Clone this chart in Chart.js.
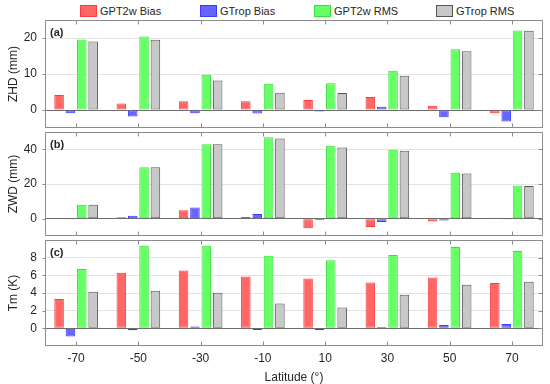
<!DOCTYPE html>
<html><head><meta charset="utf-8">
<script src="https://cdn.jsdelivr.net/npm/chart.js@4"></script>
<style>
html,body{margin:0;padding:0;background:#fff;}
#wrap{position:relative;width:550px;height:384px;font-family:"Liberation Sans",Arial,sans-serif;overflow:hidden;}
canvas{position:absolute;left:0;}
.lg{position:absolute;top:4px;height:14px;display:flex;align-items:center;font-size:11px;color:#262626;white-space:nowrap;}
.lg .b{display:inline-block;box-sizing:border-box;width:17px;height:12px;border:1px solid;margin-right:3px;}
</style></head><body>
<div id="wrap">
  <div id="legend"></div>
  <canvas id="ca" width="550" height="130" style="top:0px"></canvas>
  <canvas id="cb" width="550" height="108" style="top:130px"></canvas>
  <canvas id="cc" width="550" height="146" style="top:238px"></canvas>
</div>
<script>
// ---- data ----
const latitudes = ['-70','-50','-30','-10','10','30','50','70'];
const seriesNames = ['GPT2w Bias','GTrop Bias','GPT2w RMS','GTrop RMS'];

const zhdGpt2wBias = [4.2, 1.8, 2.4, 2.4, 2.8, 3.6, 1.2, -0.9];
const zhdGtropBias = [-0.9, -1.8, -0.9, -1.0, -0.4, 0.9, -2.0, -3.2];
const zhdGpt2wRms  = [19.6, 20.4, 9.8, 7.3, 7.4, 10.9, 16.9, 22.1];
const zhdGtropRms  = [19.0, 19.5, 8.2, 4.8, 4.7, 9.5, 16.3, 22.0];

const zwdGpt2wBias = [0.1, 0.8, 4.8, 1.0, -5.5, -4.8, -1.7, 0.6];
const zwdGtropBias = [-0.5, 1.7, 6.5, 2.7, -0.8, -1.9, -1.1, -0.1];
const zwdGpt2wRms  = [8.0, 29.7, 43.0, 47.0, 42.1, 39.8, 26.5, 19.2];
const zwdGtropRms  = [8.0, 29.7, 42.9, 46.3, 41.0, 39.2, 26.1, 18.9];

const tmGpt2wBias = [3.33, 6.28, 6.54, 5.87, 5.64, 5.20, 5.76, 5.12];
const tmGtropBias = [-0.93, -0.22, 0.22, -0.19, -0.22, 0.15, 0.37, 0.49];
const tmGpt2wRms  = [6.73, 9.35, 9.35, 8.22, 7.70, 8.30, 9.20, 8.75];
const tmGtropRms  = [4.15, 4.26, 4.04, 2.80, 2.36, 3.81, 4.93, 5.27];

const zhdTicks = [0, 10, 20];
const zwdTicks = [0, 20, 40];
const tmTicks  = [0, 2, 4, 6, 8];

// ---- styles ----
const fills   = ['#FF6666', '#6666FF', '#66FF66', '#C8C8C8'];
const borders = ['#FF3B3B', '#3B3BFF', '#3BE03B', '#555555'];
const FONT = '"Liberation Sans", Arial, sans-serif';
const TXT = '#262626';

// legend (HTML)
const legendLefts = [80, 200, 314, 436];
const lg = document.getElementById('legend');
seriesNames.forEach((n, i) => {
  const d = document.createElement('div');
  d.className = 'lg';
  d.style.left = legendLefts[i] + 'px';
  d.innerHTML = '<span class="b" style="background:' + fills[i] + ';border-color:' + borders[i] + '"></span>' + n;
  lg.appendChild(d);
});

const framePlugin = {
  id: 'frame',
  afterDraw(chart, args, opts) {
    const {ctx, chartArea: a} = chart;
    const xs = chart.scales.x, ys = chart.scales.y;
    ctx.save();
    ctx.strokeStyle = '#8c8c8c';
    ctx.lineWidth = 1;
    const L = Math.round(a.left) + 0.5, R = Math.round(a.right) - 0.5;
    const T = Math.round(a.top) + 0.5, B = Math.round(a.bottom) - 0.5;
    ctx.strokeRect(L, T, R - L, B - T);
    ctx.beginPath();
    for (let i = 0; i < latitudes.length; i++) {
      const x = Math.round(xs.getPixelForValue(i)) + 0.5;
      ctx.moveTo(x, T); ctx.lineTo(x, T + 4);
      ctx.moveTo(x, B); ctx.lineTo(x, B - 4);
    }
    ys.ticks.forEach(t => {
      const y = Math.round(ys.getPixelForValue(t.value)) + 0.5;
      ctx.moveTo(L - 3, y); ctx.lineTo(L, y);
      ctx.moveTo(R - 4, y); ctx.lineTo(R, y);
    });
    ctx.stroke();
    ctx.fillStyle = TXT;
    ctx.font = 'bold 11px ' + FONT;
    ctx.textBaseline = 'middle';
    ctx.textAlign = 'left';
    ctx.fillText(opts.label, a.left + 5, a.top + 13);
    ctx.restore();
  }
};

function makeChart(id, data4, yMin, yMax, yTicks, yTitle, label, showX, pad) {
  const datasets = data4.map((d, i) => ({
    label: seriesNames[i],
    data: d,
    backgroundColor: fills[i],
    borderColor: borders[i],
    borderWidth: 1,
    borderSkipped: false,
    categoryPercentage: 0.73,
    barPercentage: 0.84
  }));
  return new Chart(document.getElementById(id), {
    type: 'bar',
    data: {labels: latitudes, datasets},
    plugins: [framePlugin],
    options: {
      responsive: false,
      animation: false,
      layout: {padding: pad},
      plugins: {legend: {display: false}, tooltip: {enabled: false}, frame: {label}},
      scales: {
        x: {
          display: showX,
          offset: true,
          grid: {display: false, drawTicks: false},
          border: {display: false},
          ticks: {color: TXT, font: {family: FONT, size: 12}, padding: 5, maxRotation: 0},
          title: {display: showX, text: 'Latitude (°)', color: TXT,
                  font: {family: FONT, size: 12, lineHeight: 1}, padding: {top: 0, bottom: 0}},
          afterFit(s) { if (showX) s.height = 38; s.paddingLeft = 0; s.paddingRight = 0; }
        },
        y: {
          min: yMin, max: yMax,
          afterBuildTicks(s) { s.ticks = yTicks.map(v => ({value: v})); },
          afterFit(s) { s.width = 45; s.paddingTop = 0; s.paddingBottom = 0; },
          grid: {drawTicks: false,
                 color: c => (c.tick && c.tick.value === 0) ? '#6e6e6e' : '#e3e3e3'},
          border: {display: false},
          ticks: {color: TXT, font: {family: FONT, size: 12}, padding: 8},
          title: {display: true, text: yTitle, color: TXT,
                  font: {family: FONT, size: 12}, padding: {top: 6, bottom: 0}}
        }
      }
    }
  });
}

makeChart('ca', [zhdGpt2wBias, zhdGtropBias, zhdGpt2wRms, zhdGtropRms], -5, 25, zhdTicks,
  'ZHD (mm)', '(a)', false, {left: 0, right: 7, top: 20, bottom: 2});
makeChart('cb', [zwdGpt2wBias, zwdGtropBias, zwdGpt2wRms, zwdGtropRms], -10, 50, zwdTicks,
  'ZWD (mm)', '(b)', false, {left: 0, right: 7, top: 2, bottom: 2});
makeChart('cc', [tmGpt2wBias, tmGtropBias, tmGpt2wRms, tmGtropRms], -2, 10, tmTicks,
  'Tm (K)', '(c)', true, {left: 0, right: 7, top: 2, bottom: 0});
</script>
</body></html>
